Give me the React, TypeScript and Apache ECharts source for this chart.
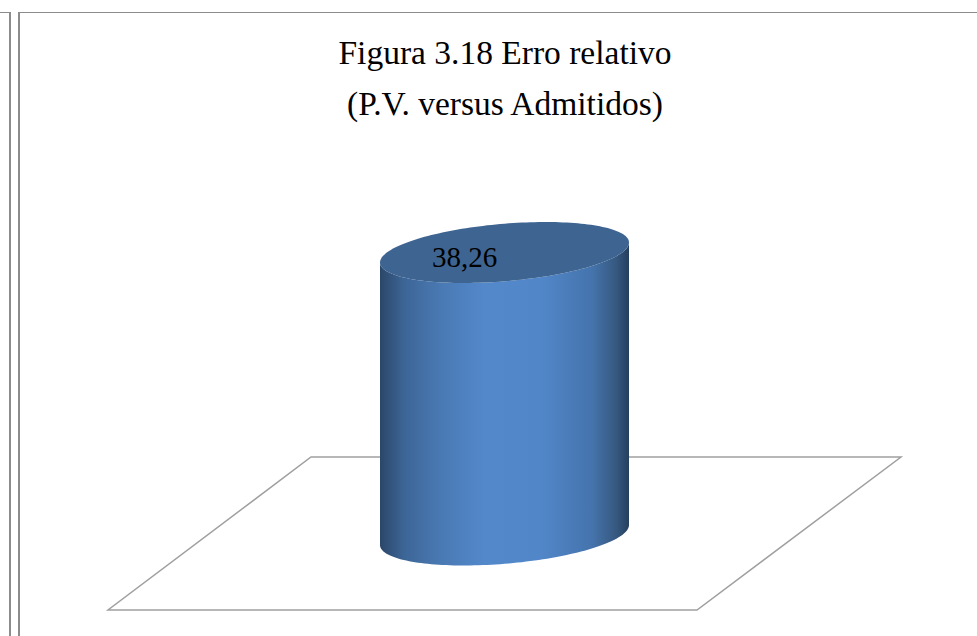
import React, { useEffect, useRef } from "react";
import * as echarts from "echarts";

const titleLines = ["Figura 3.18 Erro relativo", "(P.V. versus Admitidos)"];
const categories = ["Erro relativo"];
const values = [38.26];
const floorPoints = [[311, 457], [901, 457], [697, 610], [108, 610]];
const FONT = "Liberation Serif";

export default function App() {
  const ref = useRef<HTMLDivElement>(null);
  useEffect(() => {
    document.body.style.margin = "0";
    const chart = echarts.init(ref.current!, null, { renderer: "svg" });
    const frame = "#8c8c8c";
    const renderItem = (_p: any, api: any) => {
      const [cx, topY] = api.coord([api.value(0), api.value(1)]);
      const [, baseY] = api.coord([api.value(0), 0]);
      const halfW = api.size([1, 0])[0] / 2;
      const b = 28.7, theta = (-4.85 * Math.PI) / 180;
      const c = Math.cos(theta), s = Math.sin(theta);
      const a = Math.sqrt((halfW * halfW - b * b * s * s) / (c * c));
      // angle of the right-most point of the tilted ellipse
      const t0 = Math.atan2(-b * s, a * c);
      const pt = (t: number, y0: number) => [
        cx + a * Math.cos(t) * c - b * Math.sin(t) * s,
        y0 + a * Math.cos(t) * s + b * Math.sin(t) * c,
      ];
      const N = 90;
      const topRing: number[][] = [];
      for (let i = 0; i < 2 * N; i++) topRing.push(pt(t0 + (i * Math.PI) / N, topY));
      const body: number[][] = [];
      // lower half of the base, right to left, then back up along the top's lower half
      for (let i = 0; i <= N; i++) body.push(pt(t0 + (i * Math.PI) / N, baseY));
      for (let i = N; i >= 0; i--) body.push(pt(t0 + (i * Math.PI) / N, topY));
      return {
        type: "group",
        children: [
          {
            type: "polygon",
            shape: { points: body },
            style: {
              fill: new echarts.graphic.LinearGradient(0, 0, 1, 0, [
                { offset: 0, color: "#2b4768" },
                { offset: 0.1, color: "#3d6698" },
                { offset: 0.25, color: "#4a7ab4" },
                { offset: 0.42, color: "#5388cb" },
                { offset: 0.65, color: "#5186c8" },
                { offset: 0.85, color: "#4574ad" },
                { offset: 0.95, color: "#36587f" },
                { offset: 1, color: "#253f5e" },
              ]),
            },
          },
          { type: "polygon", shape: { points: topRing }, style: { fill: "#3e6492" } },
          {
            type: "text",
            x: cx - 40,
            y: topY + 4,
            style: {
              text: String(api.value(1)).replace(".", ","),
              font: `29px "${FONT}"`,
              fill: "#000000",
              align: "center",
              verticalAlign: "middle",
            },
          },
        ],
      };
    };
    chart.setOption({
      animation: false,
      backgroundColor: "#ffffff",
      title: {
        text: titleLines.join("\n"),
        left: 500,
        top: 22,
        textAlign: "center",
        textStyle: { fontFamily: FONT, fontSize: 33.5, fontWeight: "normal", color: "#000000", lineHeight: 51 },
      },
      grid: { left: 380, width: 249, top: 252.5, height: 282.5 },
      xAxis: { type: "category", data: categories, show: false },
      yAxis: { type: "value", min: 0, max: values[0], show: false },
      graphic: [
        { type: "polygon", z: 0, shape: { points: floorPoints }, style: { fill: "#ffffff", stroke: "#a0a0a0", lineWidth: 1.5 } },
        { type: "line", shape: { x1: 0, y1: 12.5, x2: 9, y2: 12.5 }, style: { stroke: frame, lineWidth: 1 } },
        { type: "line", shape: { x1: 10, y1: 12, x2: 10, y2: 636 }, style: { stroke: frame, lineWidth: 2 } },
        { type: "line", shape: { x1: 19, y1: 12, x2: 19, y2: 636 }, style: { stroke: frame, lineWidth: 2 } },
        { type: "line", shape: { x1: 18, y1: 12.5, x2: 977, y2: 12.5 }, style: { stroke: frame, lineWidth: 1 } },
      ],
      series: [
        {
          type: "custom",
          coordinateSystem: "cartesian2d",
          renderItem,
          clip: false,
          z: 5,
          encode: { x: 0, y: 1 },
          data: categories.map((c, i) => [c, values[i]]),
        },
      ],
    });
    return () => chart.dispose();
  }, []);
  return <div ref={ref} style={{ width: 977, height: 636 }} />;
}
